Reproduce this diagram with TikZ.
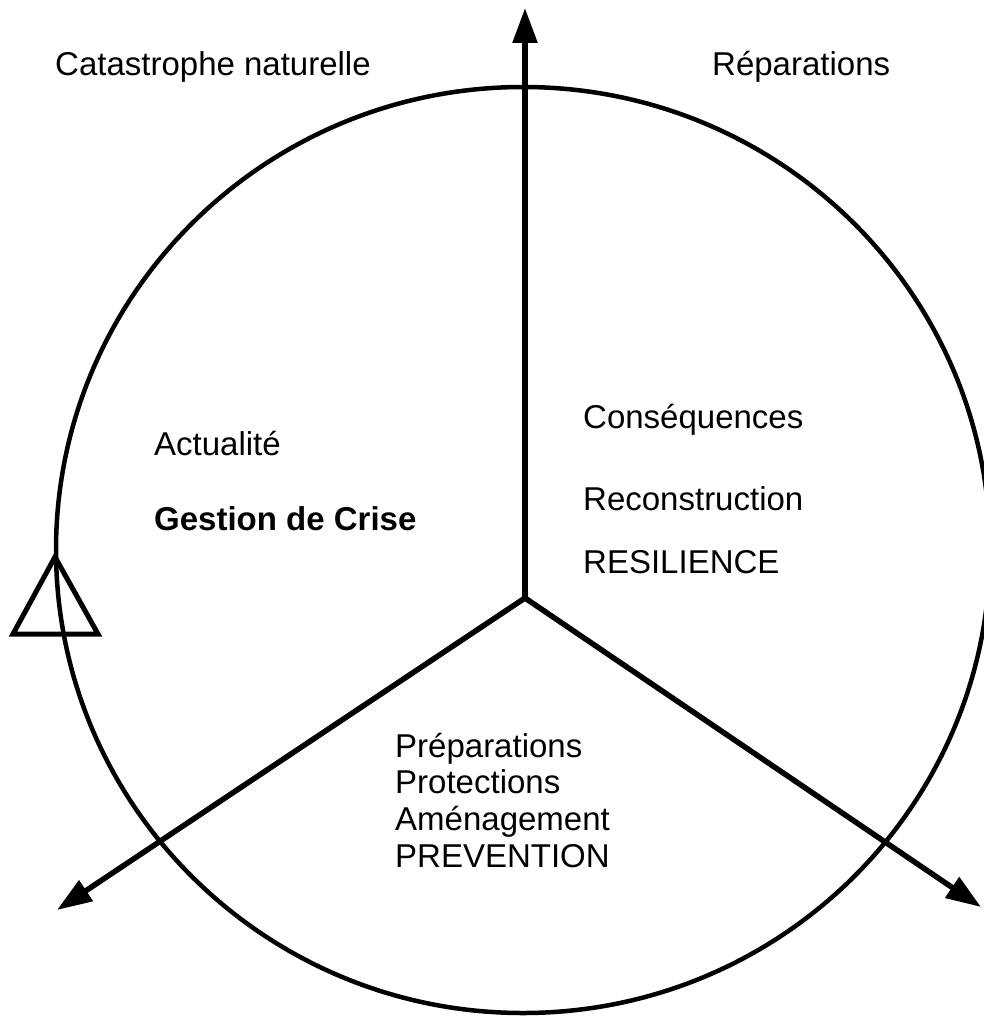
\documentclass[tikz,border=0pt]{standalone}
\usepackage{fontspec}
\setmainfont{Liberation Sans}
\usetikzlibrary{arrows.meta}
\begin{document}
\begin{tikzpicture}[x=1pt,y=-1pt,
  lbl/.style={anchor=base west,inner sep=0pt,font=\fontsize{33}{37}\selectfont},
  axis/.style={line width=5.5pt,-{Triangle[length=35pt,width=24pt]}},
  ring/.style={line width=4.5pt},
  marker/.style={line width=5pt,line join=miter}]
\useasboundingbox (0,0) rectangle (983,1016);
% circle
\coordinate (o) at (523,550);
\draw[ring] (o) ellipse [x radius=467pt, y radius=463pt];
% axes
\coordinate (c) at (525,598);
\coordinate (top) at (525,8);
\coordinate (bl) at (57,910);
\coordinate (br) at (981,907);
\draw[axis] (c) -- (top);
\draw[axis] (c) -- (bl);
\draw[axis] (c) -- (br);
% triangle marker
\coordinate (t1) at (55,557);
\coordinate (t2) at (13,634);
\coordinate (t3) at (98,634);
\draw[marker] (t1) -- (t2) -- (t3) -- cycle;
% labels
\node[lbl] (cat) at (55,76) {Catastrophe naturelle};
\node[lbl] (rep) at (712,76) {Réparations};
\node[lbl] (act) at (154,455) {Actualité};
\node[lbl,font=\fontsize{33}{37}\selectfont\bfseries] (ges) at (154,530) {Gestion de Crise};
\node[lbl] (con) at (583,428) {Conséquences};
\node[lbl] (rec) at (583,510) {Reconstruction};
\node[lbl] (res) at (583,573) {RESILIENCE};
\node[lbl] (pre) at (395,757) {Préparations};
\node[lbl] (pro) at (395,793) {Protections};
\node[lbl] (ame) at (395,830) {Aménagement};
\node[lbl] (prev) at (395,867) {PREVENTION};
\end{tikzpicture}
\end{document}
